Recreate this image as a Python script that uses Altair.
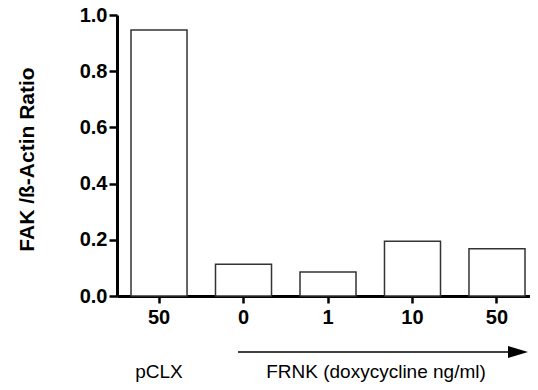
import altair as alt
import pandas as pd

groups = ["pCLX", "FRNK", "FRNK", "FRNK", "FRNK"]
doses = ["50", "0", "1", "10", "50"]
ratios = [0.947, 0.113, 0.085, 0.195, 0.168]

y_ticks = [0.0, 0.2, 0.4, 0.6, 0.8, 1.0]
y_title = "FAK /ß-Actin Ratio"
group_label = "pCLX"
frnk_label = "FRNK (doxycycline ng/ml)"

keys = [f"{g} {d}" for g, d in zip(groups, doses)]
df = pd.DataFrame({"key": keys, "ratio": ratios})

FONT = "Liberation Sans"
W, H = 413, 281

x_scale = alt.Scale(domain=keys, paddingInner=0.337, paddingOuter=0.1125, align=0.737)
y_scale = alt.Scale(domain=[0, 1], nice=False)

bars = alt.Chart(df).mark_bar(fill="white", stroke="#333333", strokeWidth=1.5).encode(
    x=alt.X("key:N", scale=x_scale, sort=keys,
            axis=alt.Axis(title=None, labelExpr="split(datum.value, ' ')[1]",
                          labelAngle=0, tickSize=7, labelPadding=4)),
    y=alt.Y("ratio:Q", scale=y_scale,
            axis=alt.Axis(title=y_title, values=y_ticks, format=".1f",
                          labelPadding=2, tickSize=8, grid=False,
                          titleFont=FONT, titleFontSize=21, titleFontWeight="bold",
                          titleColor="black", titleX=-90, titleY=144,
                          titleBaseline="middle", titleAngle=270)),
)

pclx_df = pd.DataFrame({"key": [keys[0]], "label": [group_label]})
pclx_text = alt.Chart(pclx_df).mark_text(
    font=FONT, fontSize=19, color="black", baseline="alphabetic", align="center"
).encode(
    x=alt.X("key:N", scale=x_scale, sort=keys),
    y=alt.value(363),
    text="label:N",
)

frnk_df = pd.DataFrame({"label": [frnk_label]})
frnk_text = alt.Chart(frnk_df).mark_text(
    font=FONT, fontSize=19, color="black", baseline="alphabetic", align="center"
).encode(
    x=alt.value(259),
    y=alt.value(363),
    text="label:N",
)

arrow_line = alt.Chart(frnk_df).mark_rule(color="black", strokeWidth=1.5).encode(
    x=alt.value(121), x2=alt.value(402), y=alt.value(337)
)

arrow_head = alt.Chart(frnk_df).mark_point(
    shape="M-1,-0.6L1,0L-1,0.6Z", filled=True, fill="black", stroke="black",
    strokeWidth=0, size=400, opacity=1
).encode(
    x=alt.value(401), y=alt.value(337)
)

chart = alt.layer(
    bars, pclx_text, frnk_text, arrow_line, arrow_head
).properties(
    width=W,
    height=H,
    padding={"left": 109, "top": 7, "right": 0, "bottom": 86},
    autosize=alt.AutoSizeParams(type="none"),
    background="white",
).configure_view(
    stroke=None
).configure_axis(
    domain=True, domainColor="black", domainWidth=3,
    ticks=True, tickColor="black", tickWidth=2.5,
    labelFont=FONT, labelFontSize=20, labelFontWeight="bold", labelColor="black",
)

chart.save("out.html", embed_options={"renderer": "svg", "actions": False})
